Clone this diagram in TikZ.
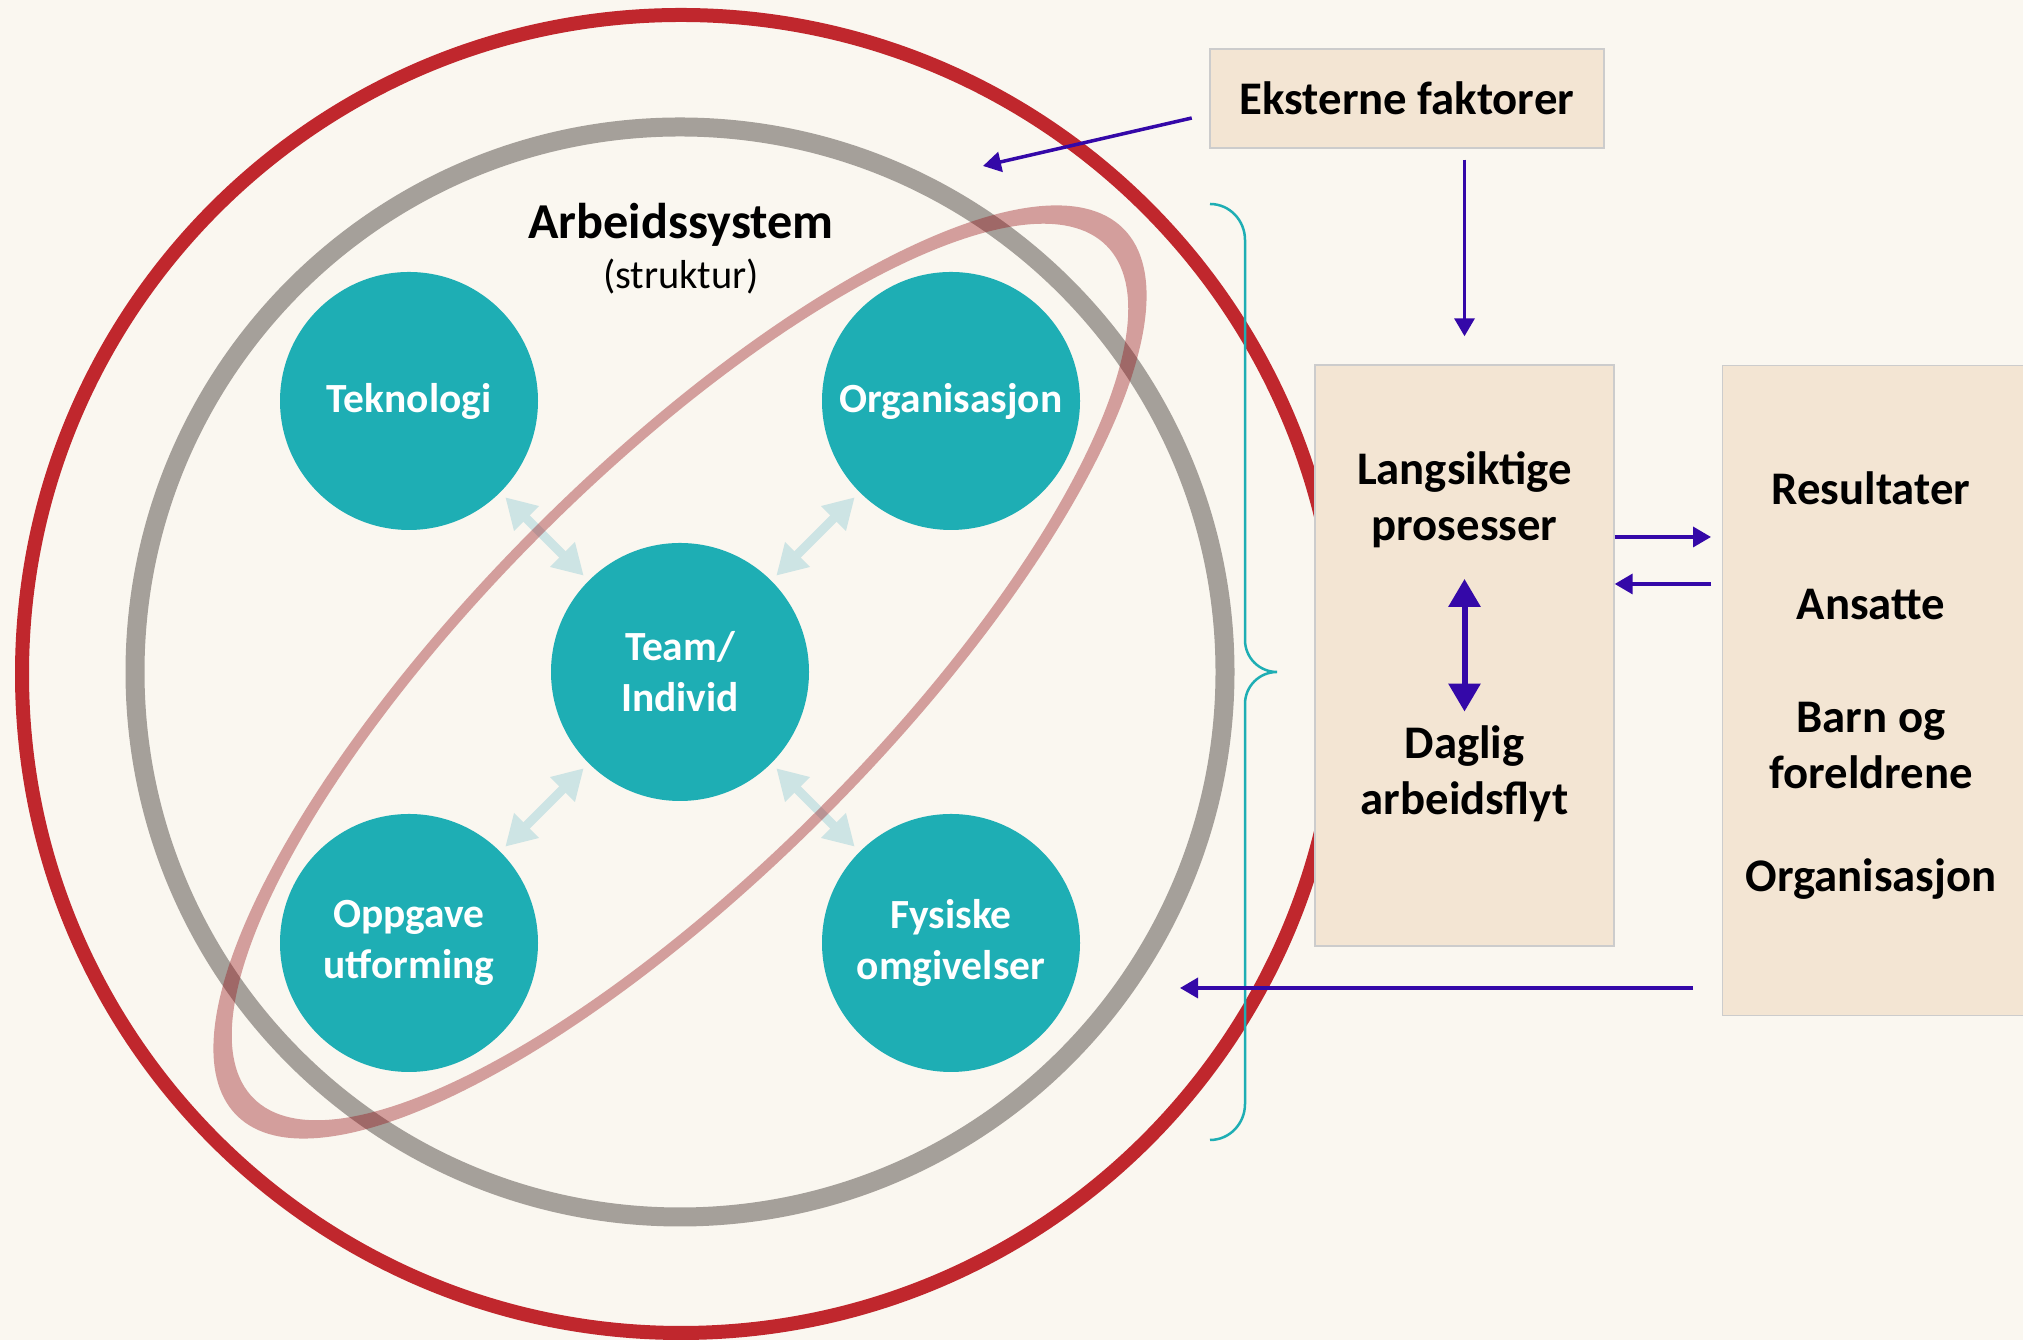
\documentclass[tikz,border=0pt]{standalone}
\usepackage{fontspec}
\setmainfont{Carlito}
\usetikzlibrary{positioning,arrows.meta,calc}

\definecolor{bakgrunn}{RGB}{250,247,240}
\definecolor{rod}{RGB}{192,39,45}
\definecolor{graa}{RGB}{165,160,154}
\definecolor{turkis}{RGB}{30,174,180}
\definecolor{boks}{RGB}{243,229,211}
\definecolor{lilla}{RGB}{52,8,168}
\definecolor{lysbla}{RGB}{205,228,228}
\definecolor{rosa}{RGB}{150,15,20}

\tikzset{
	sirkel/.style={circle,fill=turkis,minimum size=2.58cm,inner sep=0pt,text=white,align=center,font=\fontsize{11.8}{14.5}\selectfont\bfseries},
	boksen/.style={fill=boks,draw=black!20,line width=0.4pt},
	tekst/.style={inner sep=0pt,align=center,font=\fontsize{13.3}{16}\selectfont\bfseries},
	pil/.style={draw=lilla,line width=1pt,-{Triangle[width=0.2cm,length=0.18cm]}},
	lyspil/.style={draw=lysbla,line width=0.09cm,{Triangle[width=0.33cm,length=0.3cm]}-{Triangle[width=0.33cm,length=0.3cm]},shorten <=0.065cm,shorten >=0.065cm},
	dobbelpil/.style={draw=lilla,line width=1.7pt,{Triangle[width=0.31cm,length=0.28cm]}-{Triangle[width=0.31cm,length=0.28cm]}}
}

\begin{document}
\begin{tikzpicture}
	\useasboundingbox (0,0) rectangle (20.23,13.4);
	\fill[bakgrunn] (0,0) rectangle (20.23,13.4);
	\coordinate (midt) at (6.80,6.68);

	% ringene
	\draw[rod,line width=0.14cm] (6.81,6.66) circle (6.59);
	\draw[graa,line width=0.19cm] (midt) circle (5.45);
	\node[font=\fontsize{14.3}{17}\selectfont\bfseries] (arb) at (6.81,11.15) {Arbeidssystem};
	\node[font=\fontsize{11.5}{14}\selectfont] (struktur) at (6.81,10.63) {(struktur)};

	% sirklene
	\node[sirkel] (team) at (midt) {Team/\\Individ};
	\node[sirkel] (tek) at ($(midt)+(-2.71,2.71)$) {Teknologi};
	\node[sirkel] (org) at ($(midt)+(2.71,2.71)$) {Organisasjon};
	\node[sirkel] (oppg) at ($(midt)+(-2.71,-2.71)$) {Oppgave\\utforming};
	\node[sirkel] (fys) at ($(midt)+(2.71,-2.71)$) {Fysiske\\omgivelser};
	\foreach \s in {tek,org,oppg,fys}
		\draw[lyspil] (team) -- (\s);

	% ellipsen
	\begin{scope}[shift={(midt)},rotate=45]
		\fill[rosa,opacity=0.38,even odd rule] (0,0) ellipse (6.27 and 2.05) (0,0) ellipse (6.03 and 1.95);
	\end{scope}

	% klammen
	\draw[turkis,line width=0.025cm] (12.10,11.36) to[out=0,in=90] (12.45,11.00) -- (12.45,7.00)
		to[out=-90,in=180] (12.77,6.68) to[out=180,in=90] (12.45,6.36) -- (12.45,2.36) to[out=-90,in=0] (12.10,2.00);

	% boksene
	\node[boksen,tekst,minimum width=3.94cm,minimum height=0.99cm] (ekst) at (14.07,12.415) {Eksterne faktorer};
	\node[boksen,minimum width=2.99cm,minimum height=5.81cm] (lang) at (14.645,6.845) {};
	\node[boksen,minimum width=3.2cm,minimum height=6.5cm,anchor=north west] (utfall) at (17.22,9.75) {};
	\node[tekst] (langs) at (14.645,8.40) {Langsiktige\\prosesser};
	\node[tekst] (daglig) at (14.645,5.665) {Daglig\\arbeidsflyt};
	\node[tekst] (res) at (18.71,8.52) {Resultater};
	\node[tekst] (ans) at (18.71,7.35) {Ansatte};
	\node[tekst] (barn) at (18.71,5.945) {Barn og\\foreldrene};
	\node[tekst] (orgut) at (18.71,4.61) {Organisasjon};

	% pilene
	\coordinate (systempil) at (9.83,11.74);
	\coordinate (tilbake) at (11.80,3.52);
	\draw[pil,shorten <=0.18cm] ([yshift=-1.55mm]ekst.west) -- (systempil);
	\draw[pil,shorten <=0.11cm,shorten >=0.28cm] (ekst.south -| lang.north) -- (lang.north);
	\draw[dobbelpil,shorten <=0.3cm,shorten >=0.13cm] (langs) -- (daglig);
	\draw[pil,shorten >=0.11cm] ([yshift=11.85mm]lang.east) -- ([yshift=11.85mm]lang.east -| utfall.west);
	\draw[pil,shorten <=0.11cm] ([yshift=7.15mm]lang.east -| utfall.west) -- ([yshift=7.15mm]lang.east);
	\draw[pil,shorten <=0.29cm] (utfall.west |- tilbake) -- (tilbake);
\end{tikzpicture}
\end{document}
